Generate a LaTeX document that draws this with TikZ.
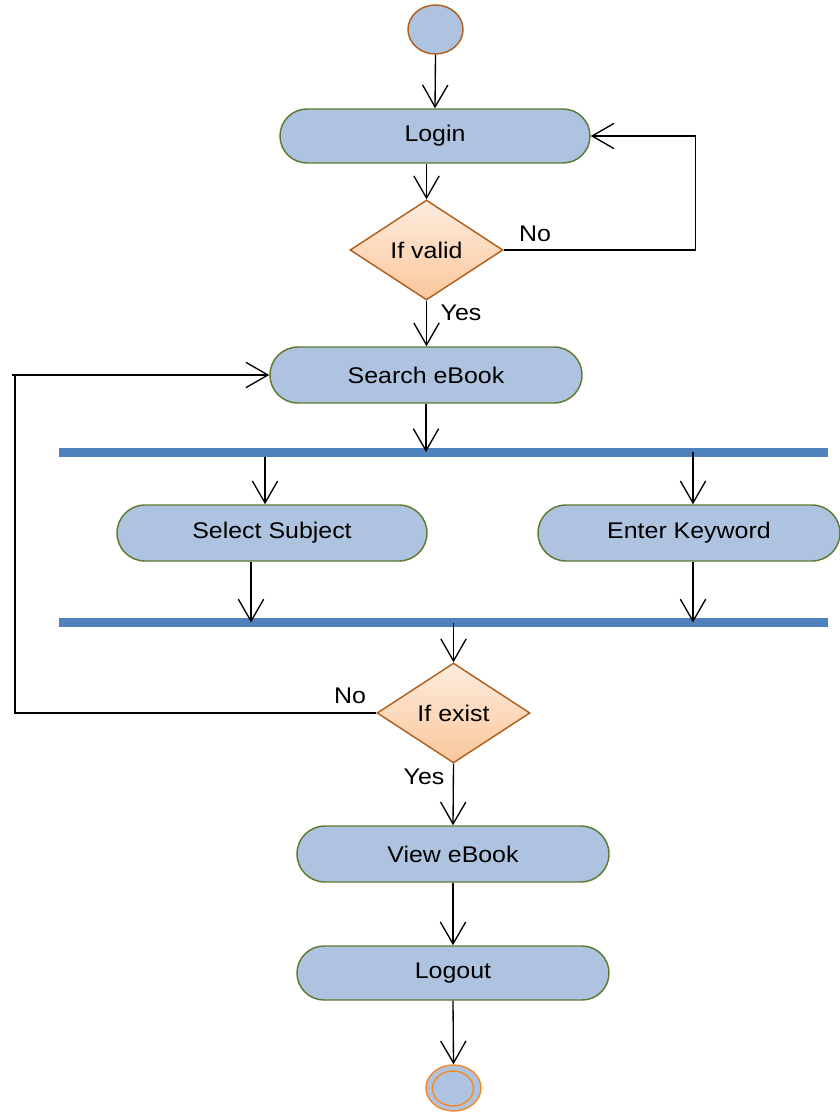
\documentclass[tikz,border=0pt]{standalone}
\usepackage{fontspec}
\setmainfont{Liberation Sans}[FakeStretch=1.1]
\usetikzlibrary{arrows.meta,shapes.misc,shapes.geometric}
\definecolor{actfill}{HTML}{AEC3E0}
\definecolor{actline}{HTML}{5F7A33}
\definecolor{decline}{HTML}{B0601E}
\definecolor{dectop}{HTML}{FDEBDD}
\definecolor{decbot}{HTML}{FBC79C}
\definecolor{barcol}{HTML}{4F81BD}
\definecolor{endline}{HTML}{F28B2E}
\begin{document}
\begin{tikzpicture}[x=0.75pt,y=-0.75pt,
  every node/.style={font=\fontsize{17}{20}\selectfont},
  act/.style={rounded rectangle,draw=actline,fill=actfill,line width=1.1pt,inner sep=0pt,minimum height=42pt},
  dec/.style={diamond,draw=decline,top color=dectop,bottom color=decbot,line width=1.1pt,inner sep=0pt,minimum width=114.75pt,minimum height=75pt},
  forkbar/.style={rectangle,fill=barcol,inner sep=0pt,minimum width=576.75pt,minimum height=6.75pt},
  arr/.style={draw=black,line width=1pt,-{Straight Barb[length=16.5pt,width=19pt,line width=1pt]}},
  lbl/.style={inner sep=0pt}]
\useasboundingbox (0,0) rectangle (839,1112);
% nodes
\node[ellipse,draw=decline,fill=actfill,line width=1.1pt,minimum width=41.25pt,minimum height=36.75pt,inner sep=0pt] (start) at (435.5,29.5) {};
\node[act,minimum width=232.5pt,minimum height=40.5pt] (login) at (435,136) {Login};
\node[dec] (d1) at (426.5,250) {If valid};
\node[act,minimum width=234pt] (search) at (426,375) {Search eBook};
\node[forkbar] (bar1) at (443.5,452) {};
\node[act,minimum width=232.5pt] (sel) at (272,533) {Select Subject};
\node[act,minimum width=226.5pt] (enter) at (689,533) {Enter Keyword};
\node[forkbar] (bar2) at (443.5,622.5) {};
\node[dec] (d2) at (453.5,713) {If exist};
\node[act,minimum width=234pt] (view) at (453,854) {View eBook};
\node[act,minimum width=234pt,minimum height=40.5pt] (logout) at (453,973) {Logout};
\node[ellipse,draw=endline,fill=actfill,line width=1.1pt,minimum width=41.25pt,minimum height=34.5pt,inner sep=0pt] (endo) at (453.5,1088) {};
\node[ellipse,draw=endline,line width=1.1pt,minimum width=30.75pt,minimum height=26.25pt,inner sep=0pt] (endi) at (453,1088.5) {};
% labels
\node[lbl] (no1) at (535,234) {No};
\node[lbl] (yes1) at (461,313) {Yes};
\node[lbl] (no2) at (350,696) {No};
\node[lbl] (yes2) at (424,777) {Yes};
\path (d1.east) ++(192,0) coordinate (c1);
\path (d2.west) -| coordinate (c2) (15,0);
% connectors
\draw[arr] (start.south) -- (login.north);
\draw[arr] (login.south -| d1.north) -- (d1.north);
\draw[arr] (d1.east) -- (c1) |- (login.east);
\draw[arr] (d1.south) -- (d1.south |- search.north);
\draw[arr] (search.south) -- (search.south |- bar1.center);
\draw[arr] ([xshift=-5.25pt]sel.north |- bar1.south) -- ([xshift=-5.25pt]sel.north);
\draw[arr] ([xshift=3pt]enter.north |- bar1.center) -- ([xshift=3pt]enter.north);
\draw[arr] ([xshift=-15.75pt]sel.south) -- ([xshift=-15.75pt]sel.south |- bar2.center);
\draw[arr] ([xshift=3pt]enter.south) -- ([xshift=3pt]enter.south |- bar2.center);
\draw[arr] (bar2.center -| d2.north) -- (d2.north);
\draw[arr] (d2.west) -- (c2) |- (search.west);
\draw[line width=1pt] (c2 |- search.west) -- ++(-3,0);
\draw[arr] (d2.south) -- (view.north);
\draw[arr] (view.south) -- (logout.north);
\draw[arr] (logout.south) -- (endo.north);
\end{tikzpicture}
\end{document}
